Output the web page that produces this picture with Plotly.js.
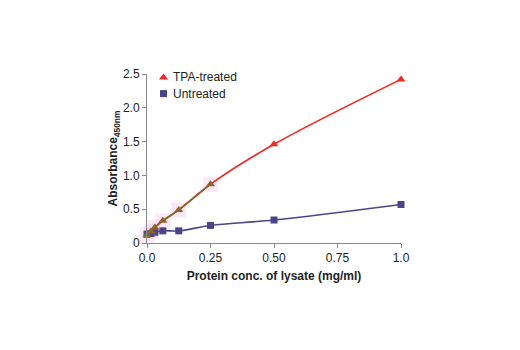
<!DOCTYPE html>
<html><head><meta charset="utf-8">
<script src="https://cdn.plot.ly/plotly-3.0.1.min.js"></script>
<style>body{margin:0;background:#fff}#c{width:520px;height:350px}</style>
</head><body><div id="c"></div>
<script>
const conc = [0, 0.0156, 0.03125, 0.0625, 0.125, 0.25, 0.5, 1.0];
const tpaTreated = [0.12, 0.17, 0.23, 0.33, 0.49, 0.87, 1.46, 2.42];
const untreated = [0.13, 0.14, 0.16, 0.18, 0.18, 0.26, 0.34, 0.57];
const xTicks = [0, 0.25, 0.5, 0.75, 1.0];
const xTickText = ['0.0', '0.25', '0.50', '0.75', '1.0'];
const yTicks = [0, 0.5, 1.0, 1.5, 2.0, 2.5];
const yTickText = ['0', '0.5', '1.0', '1.5', '2.0', '2.5'];

const lowIdx = conc.map((c,i)=>i).filter(i=>conc[i]<=0.25);
const fontT = 'Liberation Sans Narrow, Arial Narrow, Liberation Sans, sans-serif';

const traces = [
  {x: lowIdx.map(i=>conc[i]), y: lowIdx.map(i=>tpaTreated[i]), mode:'markers', showlegend:false, hoverinfo:'skip',
   marker:{symbol:'square', size:15, color:'rgba(250,205,242,0.45)'}, cliponaxis:false},
  {x: conc, y: tpaTreated, mode:'lines', line:{color:'#ee2a24', width:1.6, shape:'spline'}, showlegend:false, cliponaxis:false},
  {x: lowIdx.map(i=>conc[i]), y: lowIdx.map(i=>tpaTreated[i]), mode:'lines', line:{color:'#8a6428', width:1.6, shape:'spline'}, showlegend:false, cliponaxis:false},
  {x: conc, y: untreated, name:'Untreated', mode:'lines+markers', line:{color:'#4a4586', width:1.6, shape:'spline'},
   marker:{symbol:'square', size:7, color:'#4a4586'}, cliponaxis:false},
  {x: conc, y: tpaTreated, name:'TPA-treated', mode:'markers',
   marker:{symbol:'triangle-up', size:8, color: conc.map(c=> c<=0.25 ? '#8a6428' : '#ee2a24')}, cliponaxis:false}
];

const layout = {
  width:520, height:350,
  margin:{l:147, r:119, t:74, b:107},
  paper_bgcolor:'#fff', plot_bgcolor:'#fff',
  showlegend:false,
  font:{family:fontT, size:11, color:'#222'},
  xaxis:{range:[0,1], tickvals:xTicks, ticktext:xTickText, ticks:'outside', ticklen:4, tickcolor:'#888',
    showline:true, linecolor:'#888', linewidth:1, showgrid:false, zeroline:false,
    tickfont:{family:fontT, size:12, color:'#222'},
    title:{text:'<b>Protein conc. of lysate (mg/ml)</b>', font:{family:fontT, size:12, color:'#222'}, standoff:7}},
  yaxis:{range:[0,2.5], tickvals:yTicks, ticktext:yTickText, ticks:'outside', ticklen:4, tickcolor:'#888',
    showline:true, linecolor:'#888', linewidth:1, showgrid:false, zeroline:false,
    tickfont:{family:fontT, size:12, color:'#222'},
    title:{text:'<b>Absorbance<sub>450nm</sub></b>', font:{family:fontT, size:12, color:'#222'}, standoff:2}},
  annotations:[]
};

const legendItems = [
  {name:'TPA-treated', symbol:'triangle-up', color:'#ee2a24', y:2.45},
  {name:'Untreated', symbol:'square', color:'#4a4586', y:2.21}
];
legendItems.forEach(it=>{
  traces.push({x:[0.065], y:[it.y], mode:'markers', showlegend:false, hoverinfo:'skip',
    marker:{symbol:it.symbol, size:it.symbol==='square'?7:8, color:it.color}, cliponaxis:false});
  layout.annotations.push({x:0.095, y:it.y, xref:'x', yref:'y', xanchor:'left', yanchor:'middle', showarrow:false,
    text:it.name, font:{family:fontT, size:12, color:'#222'}});
});

Plotly.newPlot('c', traces, layout, {displayModeBar:false, staticPlot:true});
</script></body></html>
